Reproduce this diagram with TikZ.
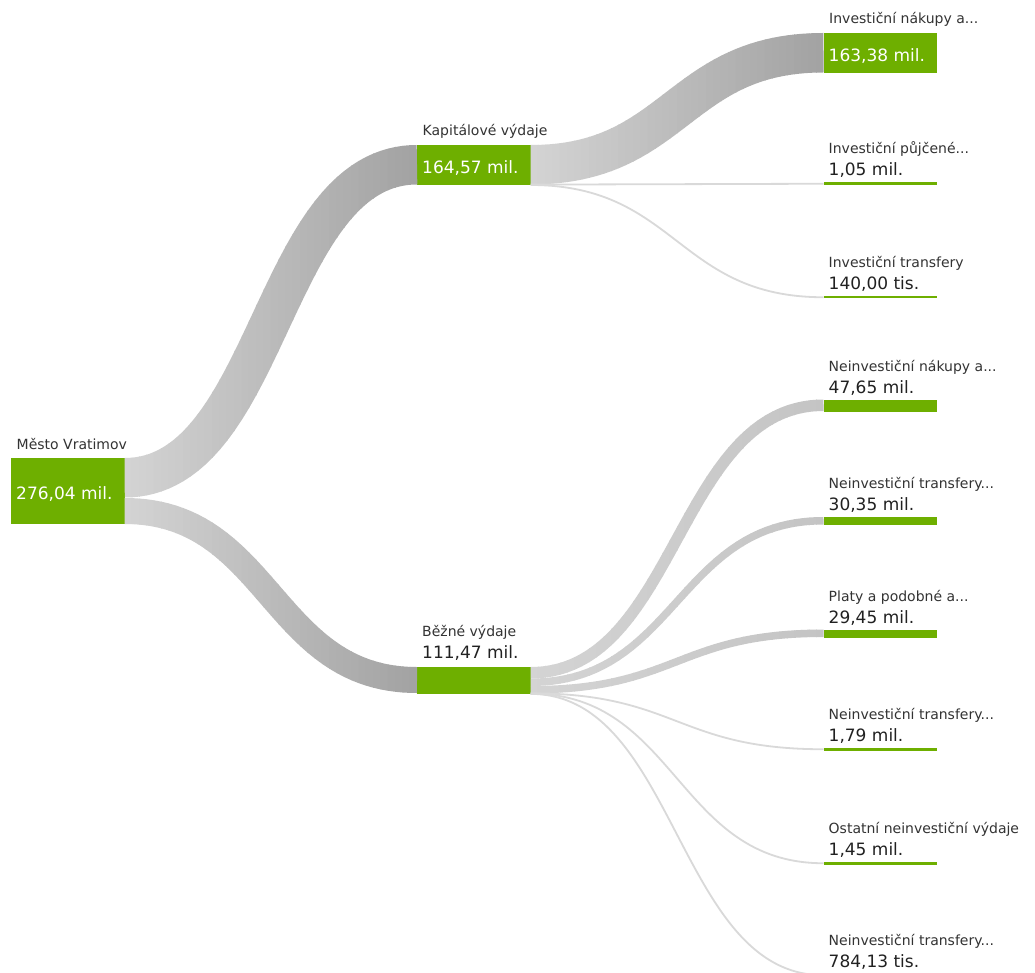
\documentclass[tikz,border=0pt]{standalone}
\usepackage{fontspec}
\setmainfont{DejaVu Sans}
\usetikzlibrary{calc,positioning}

\definecolor{green}{RGB}{110,175,0}
\definecolor{flowlight}{RGB}{212,212,212}
\definecolor{flowdarkend}{RGB}{162,162,162}
\definecolor{flowmidend}{RGB}{196,196,196}
\definecolor{flowthin}{RGB}{217,217,217}
\definecolor{labeltext}{RGB}{51,51,51}

\tikzset{
  block/.style={fill=green, inner sep=0pt, outer sep=0pt, anchor=north west, minimum width=113.5pt},
  lbl/.style={font={\fontsize{14}{16}\selectfont}, text=labeltext, inner sep=0pt, anchor=base west},
  val/.style={font={\fontsize{17}{20}\selectfont}, text=black!87, inner sep=0pt, anchor=base west},
  valin/.style={val, text=white},
  flowline/.style={draw=flowthin, line width=1.8pt}
}

% band between two blocks: {from}{offset}{to}{offset}{width}{left colour}{right colour}
\newcommand{\band}[7]{%
  \coordinate (fa) at ($(#1.north east)+(0,{#2+#5/2})$);
  \coordinate (fc) at ($(#3.north west)+(0,{#4+#5/2})$);
  \coordinate (fm) at ($(fa)!.5!(fc)$);
  \foreach \i in {0,...,39}{
    \pgfmathsetmacro\mix{100*(1-(\i+0.5)/40)}
    \coordinate (ca) at ($(fa)!{\i/40}!(fc)$);
    \coordinate (cb) at ($(fa)!{(\i+1)/40}!(fc)$);
    \begin{scope}
      \clip (ca|-top) rectangle ([xshift=0.7pt]cb|-bottom);
      \draw[line width=#5pt, draw=#6!\mix!#7] (fa) .. controls (fm|-fa) and (fm|-fc) .. (fc);
    \end{scope}
  }}
% thin link: {from}{offset}{to}{offset}
\newcommand{\link}[4]{%
  \coordinate (fa) at ($(#1.north east)+(0,#2)$);
  \coordinate (fc) at ($(#3.north west)+(0,#4)$);
  \coordinate (fm) at ($(fa)!.5!(fc)$);
  \draw[flowline] (fa) .. controls (fm|-fa) and (fm|-fc) .. (fc);}

\begin{document}
\begin{tikzpicture}[x=1pt, y=-1pt]
        \path[use as bounding box, fill=white] (0,0) rectangle (1035,973);
        \coordinate (top) at (0,0);
        \coordinate (bottom) at (0,973);

        % --- Blocks ---
        \node[block, minimum height=66pt] (root) at (11,458) {};
        \node[block, minimum height=40pt] (kap) at (417,145) {};
        \node[block, minimum height=27pt] (bez) at (417,667) {};

        \node[block, minimum height=39.7pt] (i1) at (823.5,33) {};
        \node[block, minimum height=2.5pt] (i2) at (823.5,182.5) {};
        \node[block, minimum height=2.5pt] (i3) at (823.5,296) {};
        \node[block, minimum height=12pt] (n1) at (823.5,399.5) {};
        \node[block, minimum height=8pt] (n2) at (823.5,517) {};
        \node[block, minimum height=8pt] (n3) at (823.5,629.5) {};
        \node[block, minimum height=2.5pt] (n4) at (823.5,748) {};
        \node[block, minimum height=2.5pt] (n5) at (823.5,862) {};
        \node[block, minimum height=2.5pt] (n6) at (823.5,974) {};

        % --- Flows ---
        \band{root}{0}{kap}{0}{39.5}{flowlight}{flowdarkend}
        \band{root}{40}{bez}{0}{26}{flowlight}{flowdarkend}
        \band{kap}{0}{i1}{0}{39.5}{flowlight}{flowdarkend}
        \link{kap}{39.6}{i2}{1.25}
        \link{kap}{40}{i3}{1.25}
        \band{bez}{0}{n1}{0}{11.5}{flowlight}{flowmidend}
        \band{bez}{11.5}{n2}{0}{7.5}{flowlight}{flowmidend}
        \band{bez}{19}{n3}{0}{7.5}{flowlight}{flowmidend}
        \link{bez}{26.3}{n4}{1.25}
        \link{bez}{26.6}{n5}{1.25}
        \link{bez}{26.9}{n6}{1.25}

        % --- Texts in the left and middle column ---
        \node[lbl] (rootl) at ([shift={(5.5pt,9pt)}]root.north west) {Město Vratimov};
        \node[valin] (rootv) at ([shift={(5pt,-8.5pt)}]root.west) {276,04 mil.};
        \node[lbl] (kapl) at ([shift={(5.5pt,9pt)}]kap.north west) {Kapitálové výdaje};
        \node[valin] (kapv) at ([shift={(5pt,-8.5pt)}]kap.west) {164,57 mil.};
        \node[val] (bezv) at ([shift={(5pt,9pt)}]bez.north west) {111,47 mil.};
        \node[lbl, above=22pt of bezv.base west, anchor=base west] (bezl) {Běžné výdaje};

        % --- Texts in the right column ---
        \node[valin] (i1v) at ([shift={(5pt,-8.5pt)}]i1.west) {163,38 mil.};
        \node[lbl] (i1l) at ([shift={(5.5pt,9pt)}]i1.north west) {Investiční nákupy a...};
        \node[val] (i2v) at ([shift={(5pt,6.5pt)}]i2.north west) {1,05 mil.};
        \node[lbl, above=22pt of i2v.base west, anchor=base west] (i2l) {Investiční půjčené...};
        \node[val] (i3v) at ([shift={(5pt,6.5pt)}]i3.north west) {140,00 tis.};
        \node[lbl, above=22pt of i3v.base west, anchor=base west] (i3l) {Investiční transfery};
        \node[val] (n1v) at ([shift={(5pt,6.5pt)}]n1.north west) {47,65 mil.};
        \node[lbl, above=22pt of n1v.base west, anchor=base west] (n1l) {Neinvestiční nákupy a...};
        \node[val] (n2v) at ([shift={(5pt,6.5pt)}]n2.north west) {30,35 mil.};
        \node[lbl, above=22pt of n2v.base west, anchor=base west] (n2l) {Neinvestiční transfery...};
        \node[val] (n3v) at ([shift={(5pt,6.5pt)}]n3.north west) {29,45 mil.};
        \node[lbl, above=22pt of n3v.base west, anchor=base west] (n3l) {Platy a podobné a...};
        \node[val] (n4v) at ([shift={(5pt,6.5pt)}]n4.north west) {1,79 mil.};
        \node[lbl, above=22pt of n4v.base west, anchor=base west] (n4l) {Neinvestiční transfery...};
        \node[val] (n5v) at ([shift={(5pt,6.5pt)}]n5.north west) {1,45 mil.};
        \node[lbl, above=22pt of n5v.base west, anchor=base west] (n5l) {Ostatní neinvestiční výdaje};
        \node[val] (n6v) at ([shift={(5pt,6.5pt)}]n6.north west) {784,13 tis.};
        \node[lbl, above=22pt of n6v.base west, anchor=base west] (n6l) {Neinvestiční transfery...};

    \end{tikzpicture}
\end{document}
